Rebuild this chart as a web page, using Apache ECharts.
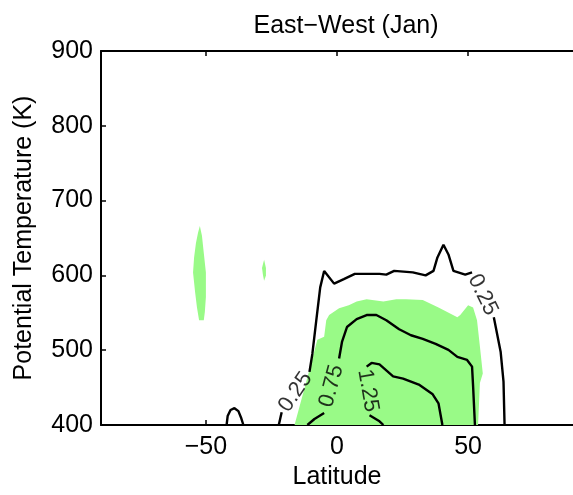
<!DOCTYPE html>
<html>
<head>
<meta charset="utf-8">
<script src="https://cdn.jsdelivr.net/npm/echarts@6/dist/echarts.min.js"></script>
<style>html,body{margin:0;padding:0;background:#fff}#c{width:573px;height:495px}</style>
</head>
<body>
<div id="c"></div>
<script>
// ---- data (latitude, potential temperature K) ----
const latTicks = [-50, 0, 50];
const thetaMin = 400, thetaMax = 900, thetaStep = 100;

// shaded (green) regions
const greenMain = [[-16.2,400],[-11.7,458],[-7.5,514],[-4.9,518],[-4.1,540],[-3.0,547],[0.8,556],[4.5,560],[7.5,565],[11.3,568],[17.7,565],[22.6,568],[26.3,568],[32.7,567],[38.7,557],[45.9,544],[47.0,547],[50.0,560],[51.9,557],[53.4,540],[54.5,505],[55.6,469],[54.5,456],[53.8,400]];
const greenBlobA = [[-52.3,666],[-51.5,653],[-50.8,630],[-50.0,604],[-50.0,571],[-50.4,551],[-50.8,540],[-52.6,540],[-53.4,557],[-54.1,577],[-54.9,604],[-54.5,624],[-53.8,643],[-53.0,657]];
const greenBlobB = [[-27.8,621],[-27.1,610],[-27.1,600],[-27.8,593],[-28.2,600],[-28.6,610]];

// contour 0.25
const c025a = [[-22.2,400],[-21.1,417]];
const c025b = [[-10.5,471],[-9.4,495],[-7.9,540],[-6.4,584],[-4.9,606],[-1.1,589],[2.6,595],[6.8,602],[16.2,602],[18.8,601],[21.8,606],[28.9,604],[33.8,600],[36.8,606],[38.3,624],[40.6,641],[42.5,628],[44.4,606],[48.9,601],[51.5,604]];
const c025c = [[59.8,544],[62.4,498],[63.5,458],[63.9,400]];
const c025bump = [[-42.1,400],[-41.7,412],[-40.6,420],[-39.1,422.5],[-37.6,418.5],[-36.5,409],[-35.7,400]];
// contour 0.75
const c075a = [[-11.3,400],[-8.6,408],[-4.9,416]];
const c075b = [[0.8,489],[1.9,511],[3.8,531],[7.5,541.5],[11.3,547],[15.0,547],[18.8,540],[23.7,528],[28.2,520],[32.7,515],[37.6,508.5],[42.5,500.5],[45.9,491],[49.6,487],[51.5,478],[51.9,452],[52.6,400]];
// contour 1.25
const c125a = [[17.7,400],[16.2,405],[12.4,413]];
const c125b = [[11.3,478],[13.2,483],[16.2,481],[21.4,465],[25.2,462],[31.2,454],[36.5,441],[38.7,429],[40.2,400]];

// contour labels
const labelTexts = ['0.25', '0.25', '0.75', '1.25'];
const labelPoints = [[-15.8,444],[55.6,574],[-2.1,452],[11.8,446]];
const labelAngles = [56, -64, 75, -80];

// ---- chart ----
const FONT = 'Liberation Sans, Arial, Helvetica, sans-serif';
const GREEN = '#99fa87';
const chart = echarts.init(document.getElementById('c'), null, {renderer: 'canvas'});

function polySeries(pts) {
  return {
    type: 'custom', z: 1, silent: true, clip: true,
    data: [pts[0]],
    renderItem: function (params, api) {
      return {
        type: 'polygon',
        shape: {points: pts.map(p => api.coord(p))},
        style: {fill: GREEN, stroke: null}
      };
    }
  };
}
function lineSeries(pts) {
  return {
    type: 'line', z: 3, silent: true, data: pts, showSymbol: false, symbol: 'none',
    lineStyle: {color: '#000', width: 2.4}, animation: false
  };
}

const minusFmt = v => (v < 0 ? '\u2212' + Math.abs(v) : String(v));

const option = {
  animation: false,
  backgroundColor: '#fff',
  title: {
    text: 'East\u2212West (Jan)', left: 341, top: 9, textAlign: 'center',
    textStyle: {fontFamily: FONT, fontSize: 25, fontWeight: 'normal', color: '#000'}
  },
  grid: {left: 101, top: 51, right: -6, bottom: 66, containLabel: false},
  xAxis: [{
    type: 'value', min: -90, max: 90, position: 'bottom',
    name: 'Latitude', nameLocation: 'middle', nameGap: 40,
    nameTextStyle: {fontFamily: FONT, fontSize: 25, color: '#000'},
    axisLine: {show: true, onZero: false, lineStyle: {color: '#000', width: 2}},
    axisTick: {show: true, inside: true, length: 5, customValues: latTicks, lineStyle: {color: '#000', width: 1.5}},
    axisLabel: {show: true, customValues: latTicks, formatter: minusFmt, margin: 10,
      fontFamily: FONT, fontSize: 25, color: '#000'},
    splitLine: {show: false}
  }, {
    type: 'value', min: -90, max: 90, position: 'top',
    axisLine: {show: true, onZero: false, lineStyle: {color: '#000', width: 2}},
    axisTick: {show: true, inside: true, length: 5, customValues: latTicks, lineStyle: {color: '#000', width: 1.5}},
    axisLabel: {show: false},
    splitLine: {show: false}
  }],
  yAxis: [{
    type: 'value', min: thetaMin, max: thetaMax, interval: thetaStep,
    name: 'Potential Temperature (K)', nameLocation: 'middle', nameGap: 64, nameRotate: 90,
    nameTextStyle: {fontFamily: FONT, fontSize: 25, color: '#000'},
    axisLine: {show: true, onZero: false, lineStyle: {color: '#000', width: 2}},
    axisTick: {show: true, inside: true, length: 5, lineStyle: {color: '#000', width: 1.5}},
    axisLabel: {margin: 8, fontFamily: FONT, fontSize: 25, color: '#000'},
    splitLine: {show: false}
  }],
  series: [
    polySeries(greenMain), polySeries(greenBlobA), polySeries(greenBlobB),
    lineSeries(c025a), lineSeries(c025b), lineSeries(c025c), lineSeries(c025bump),
    lineSeries(c075a), lineSeries(c075b),
    lineSeries(c125a), lineSeries(c125b),
    {
      type: 'scatter', z: 4, silent: true, symbolSize: 0,
      data: labelPoints.map((p, i) => ({
        value: p,
        label: {show: true, position: 'inside', formatter: labelTexts[i], rotate: labelAngles[i],
          fontFamily: FONT, fontSize: 22, color: '#000'}
      }))
    }
  ]
};
chart.setOption(option);
</script>
</body>
</html>
